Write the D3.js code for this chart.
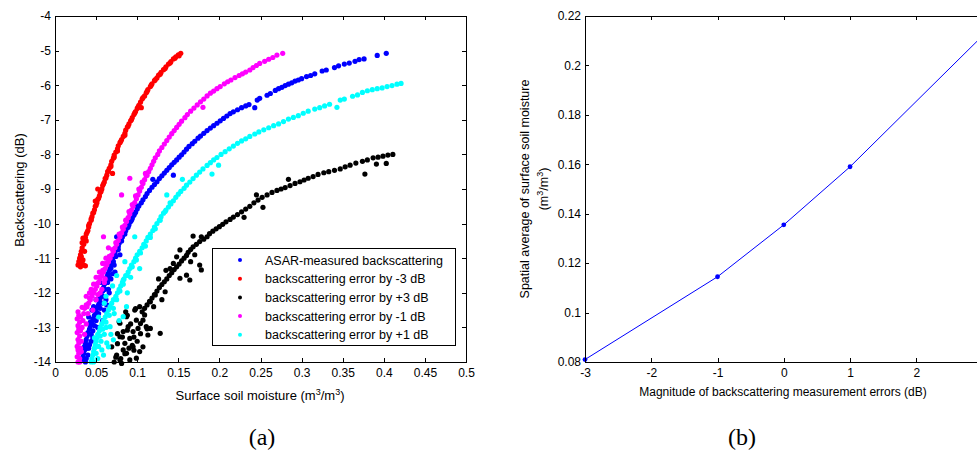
<!DOCTYPE html>
<html>
<head>
<meta charset="utf-8">
<style>
  body { margin: 0; background: #fff; }
  svg { display: block; font-family: "Liberation Sans", Arial, sans-serif; }
  .axis path, .axis line { stroke: #000; fill: none; shape-rendering: crispEdges; }
  .axis text { font-size: 12px; fill: #000; font-family: "Liberation Sans", Arial, sans-serif; }
  .lbl { font-size: 12px; fill: #000; }
  .lbl13 { font-size: 13px; fill: #000; }
  .cap { font-family: "Liberation Serif", "Times New Roman", serif; font-size: 24px; fill: #000; }
</style>
</head>
<body>
<script src="https://cdn.jsdelivr.net/npm/d3@7"></script>
<script>
// ---- panel (a): backscattering vs soil moisture, [moisture, dB]
var ptsAsar = [[0.403,-5.08],[0.392,-5.14],[0.376,-5.24],[0.370,-5.26],[0.365,-5.31],[0.358,-5.36],[0.352,-5.39],[0.345,-5.44],[0.340,-5.49],[0.330,-5.56],[0.325,-5.59],[0.316,-5.67],[0.311,-5.72],[0.306,-5.75],[0.300,-5.81],[0.296,-5.85],[0.292,-5.88],[0.288,-5.93],[0.284,-5.97],[0.280,-6.01],[0.276,-6.06],[0.272,-6.1],[0.268,-6.15],[0.262,-6.24],[0.258,-6.29],[0.249,-6.38],[0.246,-6.43],[0.243,-6.65],[0.236,-6.56],[0.232,-6.6],[0.227,-6.65],[0.222,-6.71],[0.217,-6.77],[0.213,-6.82],[0.209,-6.89],[0.205,-6.96],[0.201,-7.03],[0.197,-7.1],[0.193,-7.17],[0.189,-7.24],[0.185,-7.31],[0.181,-7.39],[0.177,-7.47],[0.174,-7.53],[0.170,-7.62],[0.167,-7.69],[0.163,-7.77],[0.160,-7.85],[0.157,-7.93],[0.154,-8.01],[0.151,-8.08],[0.148,-8.16],[0.145,-8.23],[0.142,-8.3],[0.144,-8.6],[0.139,-8.38],[0.136,-8.46],[0.133,-8.54],[0.130,-8.62],[0.127,-8.7],[0.124,-8.79],[0.121,-8.87],[0.119,-8.72],[0.118,-8.95],[0.115,-9.04],[0.112,-9.13],[0.110,-9.22],[0.107,-9.31],[0.105,-9.4],[0.102,-9.49],[0.100,-9.58],[0.098,-9.67],[0.096,-9.76],[0.094,-9.85],[0.092,-9.94],[0.090,-10.03],[0.088,-10.12],[0.086,-10.21],[0.084,-10.3],[0.082,-10.39],[0.075,-10.38],[0.080,-10.48],[0.078,-10.57],[0.077,-10.66],[0.075,-10.75],[0.073,-10.85],[0.072,-10.95],[0.070,-11.05],[0.069,-11.15],[0.067,-11.25],[0.066,-11.35],[0.064,-11.45],[0.063,-11.55],[0.062,-11.65],[0.060,-11.75],[0.059,-11.85],[0.058,-11.95],[0.056,-12.05],[0.055,-12.15],[0.054,-12.25],[0.053,-12.35],[0.051,-12.45],[0.050,-12.55],[0.048,-12.65],[0.046,-12.75],[0.045,-12.85],[0.043,-12.95],[0.042,-13.05],[0.040,-13.15],[0.039,-13.25],[0.038,-13.35],[0.037,-13.45],[0.036,-13.55],[0.036,-13.65],[0.035,-13.75],[0.034,-13.85],[0.034,-13.95],[0.072,-11.2],[0.068,-11.6],[0.065,-11.9],[0.055,-11.7],[0.062,-12.2],[0.060,-12.5],[0.050,-12.2],[0.047,-12.4],[0.058,-12.8],[0.041,-12.7],[0.044,-13.2],[0.042,-13.5],[0.040,-13.8],[0.037,-14.0],[0.079,-10.9],[0.073,-11.4],[0.052,-13.0],[0.046,-13.3],[0.039,-13.6],
  [0.100,-9.5],[0.097,-9.7],[0.093,-9.9],[0.089,-10.1],[0.085,-10.3],[0.081,-10.5],[0.077,-10.75],[0.074,-10.95],[0.071,-11.1],[0.068,-11.3],[0.066,-11.55],[0.064,-11.7],[0.061,-11.9],[0.058,-12.1],[0.057,-12.3],[0.055,-12.45],[0.053,-12.6],[0.050,-12.8],[0.048,-12.95],[0.046,-13.1],[0.044,-13.4],[0.041,-13.6],[0.038,-13.9],[0.070,-11.45],[0.066,-12.0],[0.063,-12.35],[0.045,-12.5],[0.043,-12.85]];

var ptsMinus3 = [[0.153,-5.08],[0.150,-5.12],[0.147,-5.18],[0.144,-5.24],[0.141,-5.32],[0.138,-5.39],[0.135,-5.47],[0.132,-5.55],[0.129,-5.63],[0.126,-5.71],[0.124,-5.79],[0.121,-5.87],[0.118,-5.96],[0.116,-6.04],[0.113,-6.13],[0.111,-6.22],[0.109,-6.31],[0.106,-6.4],[0.104,-6.49],[0.102,-6.58],[0.105,-6.65],[0.100,-6.67],[0.098,-6.76],[0.096,-6.85],[0.094,-6.94],[0.092,-7.03],[0.090,-7.12],[0.088,-7.21],[0.086,-7.3],[0.085,-7.39],[0.083,-7.48],[0.081,-7.57],[0.079,-7.66],[0.077,-7.75],[0.076,-7.84],[0.074,-7.93],[0.072,-8.02],[0.071,-8.11],[0.069,-8.2],[0.068,-8.3],[0.070,-8.55],[0.066,-8.4],[0.064,-8.5],[0.063,-8.6],[0.061,-8.7],[0.060,-8.8],[0.058,-8.9],[0.057,-9.0],[0.055,-9.1],[0.054,-9.2],[0.052,-9.3],[0.051,-9.4],[0.049,-9.5],[0.048,-9.6],[0.046,-9.7],[0.045,-9.8],[0.044,-9.9],[0.042,-10.0],[0.041,-10.1],[0.040,-10.2],[0.038,-10.3],[0.037,-10.4],[0.034,-10.42],[0.036,-10.5],[0.035,-10.6],[0.033,-10.7],[0.032,-10.8],[0.031,-10.9],[0.036,-10.8],[0.030,-11.0],[0.034,-11.05],[0.029,-11.1],[0.033,-11.15],[0.028,-11.2],[0.037,-11.22],[0.031,-11.25],
  [0.151,-5.15],[0.146,-5.22],[0.140,-5.36],[0.134,-5.52],[0.128,-5.68],[0.122,-5.84],[0.117,-6.0],[0.112,-6.18],[0.107,-6.36],[0.101,-6.63],[0.097,-6.8],[0.093,-7.0],[0.089,-7.18],[0.085,-7.45],[0.080,-7.62],[0.076,-7.9],[0.072,-8.08],[0.068,-8.35],[0.065,-8.48],[0.062,-8.68],[0.059,-8.85],[0.056,-9.07],[0.053,-9.27],[0.050,-9.47],[0.047,-9.68],[0.044,-9.86],[0.041,-10.05],[0.039,-10.25],[0.035,-10.45],[0.032,-10.95],[0.030,-11.15],[0.035,-11.2],[0.038,-10.5],[0.033,-10.55],[0.052,-9.0],[0.049,-9.35]];

var ptsPlus3 = [[0.411,-8.0],[0.405,-8.02],[0.399,-8.05],[0.393,-8.08],[0.387,-8.1],[0.380,-8.16],[0.374,-8.2],[0.403,-8.26],[0.391,-8.28],[0.377,-8.57],[0.366,-8.25],[0.359,-8.31],[0.353,-8.36],[0.347,-8.42],[0.340,-8.46],[0.333,-8.5],[0.327,-8.53],[0.320,-8.58],[0.314,-8.64],[0.308,-8.69],[0.303,-8.74],[0.298,-8.79],[0.292,-8.84],[0.284,-8.72],[0.286,-8.9],[0.280,-8.96],[0.275,-9.0],[0.270,-9.04],[0.264,-9.1],[0.258,-9.17],[0.252,-9.24],[0.245,-9.17],[0.247,-9.32],[0.253,-9.53],[0.242,-9.4],[0.237,-9.5],[0.232,-9.58],[0.227,-9.66],[0.230,-9.82],[0.222,-9.74],[0.217,-9.81],[0.213,-9.88],[0.208,-9.95],[0.204,-10.02],[0.200,-10.09],[0.196,-10.15],[0.192,-10.22],[0.188,-10.29],[0.185,-10.38],[0.181,-10.45],[0.178,-10.38],[0.176,-10.52],[0.168,-10.36],[0.172,-10.6],[0.168,-10.67],[0.165,-10.75],[0.162,-10.83],[0.160,-10.92],[0.176,-11.2],[0.178,-11.34],[0.157,-11.0],[0.152,-10.76],[0.148,-10.96],[0.154,-11.08],[0.151,-11.17],[0.148,-11.25],[0.145,-11.33],[0.142,-11.42],[0.164,-11.63],[0.160,-11.49],[0.152,-11.58],[0.139,-11.5],[0.136,-11.6],[0.133,-11.68],[0.130,-11.76],[0.127,-11.85],[0.134,-11.97],[0.124,-11.95],[0.121,-12.05],[0.130,-12.2],[0.118,-12.15],[0.115,-12.25],[0.120,-12.4],[0.112,-12.35],[0.109,-12.45],[0.106,-12.55],[0.103,-12.4],[0.097,-12.5],[0.109,-12.64],[0.099,-12.79],[0.087,-12.69],[0.079,-12.88],[0.089,-12.98],[0.083,-13.12],[0.095,-13.12],[0.101,-13.03],[0.116,-13.03],[0.113,-13.22],[0.128,-13.17],[0.111,-12.98],[0.107,-12.79],[0.079,-13.27],[0.091,-13.32],[0.085,-13.46],[0.095,-13.56],[0.107,-13.56],[0.103,-13.7],[0.087,-13.75],[0.075,-13.8],[0.069,-13.56],[0.079,-13.94],[0.091,-13.94],[0.099,-13.89],[0.081,-14.04],[0.072,-14.0],[0.080,-13.9],[0.074,-13.86],[0.085,-13.76],[0.096,-13.66],[0.094,-13.52],[0.076,-13.47],[0.082,-13.28],[0.076,-13.18],[0.088,-13.08],[0.078,-12.84],[0.088,-12.65],[0.086,-12.55],[0.098,-12.46],[0.104,-12.89],[0.104,-13.18],[0.112,-13.04],[0.096,-13.28],[0.092,-12.9],[0.100,-13.4],[0.090,-13.6],[0.083,-13.65],[0.122,-12.06],[0.116,-12.26],[0.144,-11.15],[0.140,-11.3],[0.126,-11.6],[0.135,-11.35],[0.170,-10.9],[0.165,-11.1]];

var ptsMinus1 = [[0.277,-5.08],[0.270,-5.13],[0.265,-5.2],[0.260,-5.25],[0.255,-5.31],[0.249,-5.37],[0.245,-5.43],[0.241,-5.49],[0.237,-5.56],[0.232,-5.62],[0.228,-5.67],[0.224,-5.72],[0.219,-5.78],[0.214,-5.85],[0.210,-5.9],[0.206,-5.96],[0.201,-6.04],[0.197,-6.1],[0.193,-6.17],[0.189,-6.23],[0.185,-6.31],[0.181,-6.4],[0.180,-6.64],[0.177,-6.48],[0.173,-6.57],[0.169,-6.66],[0.165,-6.75],[0.161,-6.85],[0.158,-6.94],[0.154,-7.04],[0.151,-7.13],[0.148,-7.22],[0.145,-7.31],[0.142,-7.4],[0.139,-7.5],[0.136,-7.6],[0.133,-7.7],[0.130,-7.8],[0.127,-7.9],[0.125,-8.0],[0.122,-8.1],[0.120,-8.2],[0.118,-8.3],[0.116,-8.4],[0.112,-8.6],[0.114,-8.5],[0.111,-8.62],[0.109,-8.73],[0.107,-8.84],[0.105,-8.95],[0.091,-8.69],[0.103,-9.06],[0.101,-9.17],[0.099,-9.28],[0.097,-9.39],[0.095,-9.5],[0.093,-9.61],[0.091,-9.72],[0.089,-9.83],[0.081,-9.17],[0.087,-9.94],[0.085,-10.05],[0.083,-10.16],[0.081,-10.27],[0.079,-10.38],[0.077,-10.49],[0.059,-10.38],[0.075,-10.6],[0.073,-10.7],[0.071,-10.8],[0.069,-10.9],[0.067,-11.0],[0.065,-11.1],[0.063,-11.2],[0.061,-11.3],[0.059,-11.4],[0.057,-11.5],[0.055,-11.6],[0.053,-11.7],[0.051,-11.8],[0.049,-11.9],[0.047,-12.0],[0.045,-12.1],[0.043,-12.2],[0.041,-12.3],[0.039,-12.4],[0.036,-12.45],[0.033,-12.42],[0.065,-10.7],[0.062,-11.0],[0.058,-11.15],[0.054,-11.4],[0.061,-11.6],[0.050,-11.55],[0.047,-11.75],[0.055,-12.0],[0.044,-11.9],[0.050,-12.2],[0.042,-12.0],[0.038,-12.1],[0.046,-12.5],[0.040,-12.6],[0.034,-12.8],[0.038,-12.9],[0.036,-13.2],[0.028,-12.55],[0.029,-12.65],[0.027,-12.75],[0.030,-12.85],[0.028,-12.95],[0.029,-13.05],[0.027,-13.15],[0.030,-13.25],[0.028,-13.35],[0.029,-13.45],[0.027,-13.55],[0.031,-13.6],[0.028,-13.65],[0.029,-13.75],[0.027,-13.85],[0.030,-13.9],[0.028,-14.0],[0.031,-13.1],[0.031,-12.7],[0.032,-13.4],
  [0.110,-8.55],[0.106,-8.8],[0.102,-9.0],[0.098,-9.2],[0.094,-9.45],[0.090,-9.65],[0.086,-9.9],[0.082,-10.1],[0.078,-10.3],[0.074,-10.55],[0.070,-10.75],[0.066,-10.95],[0.062,-11.15],[0.058,-11.35],[0.054,-11.55],[0.050,-11.75],[0.046,-11.95],[0.042,-12.15],[0.038,-12.35],[0.060,-11.7],[0.057,-11.9],[0.052,-12.05],[0.035,-12.6],[0.033,-13.0],[0.032,-13.7],[0.030,-14.0]];

var ptsPlus1 = [[0.421,-5.95],[0.416,-5.97],[0.410,-6.01],[0.404,-6.04],[0.398,-6.08],[0.392,-6.1],[0.386,-6.13],[0.380,-6.16],[0.374,-6.21],[0.368,-6.28],[0.362,-6.32],[0.352,-6.4],[0.347,-6.43],[0.343,-6.64],[0.334,-6.55],[0.328,-6.6],[0.322,-6.65],[0.316,-6.69],[0.308,-6.75],[0.302,-6.81],[0.296,-6.88],[0.290,-6.93],[0.284,-6.98],[0.278,-7.05],[0.272,-7.12],[0.266,-7.17],[0.260,-7.23],[0.254,-7.29],[0.248,-7.35],[0.243,-7.41],[0.237,-7.48],[0.232,-7.55],[0.227,-7.61],[0.222,-7.68],[0.217,-7.76],[0.212,-7.84],[0.207,-7.92],[0.202,-8.0],[0.197,-8.09],[0.199,-8.31],[0.193,-8.16],[0.189,-8.24],[0.185,-8.32],[0.180,-8.42],[0.191,-8.57],[0.176,-8.51],[0.172,-8.6],[0.168,-8.7],[0.164,-8.8],[0.155,-8.72],[0.160,-8.89],[0.157,-8.98],[0.153,-9.07],[0.150,-9.15],[0.147,-9.24],[0.144,-9.34],[0.136,-9.17],[0.141,-9.43],[0.138,-9.52],[0.135,-9.61],[0.132,-9.7],[0.129,-9.8],[0.127,-9.9],[0.124,-10.0],[0.121,-10.1],[0.119,-10.2],[0.116,-10.3],[0.113,-10.4],[0.097,-10.38],[0.111,-10.5],[0.108,-10.6],[0.106,-10.7],[0.103,-10.8],[0.100,-10.9],[0.098,-11.0],[0.096,-11.1],[0.093,-11.2],[0.103,-11.3],[0.091,-11.3],[0.089,-11.4],[0.086,-11.5],[0.084,-11.6],[0.082,-11.7],[0.080,-11.8],[0.078,-11.9],[0.076,-12.0],[0.074,-12.1],[0.071,-12.2],[0.069,-12.3],[0.067,-12.4],[0.065,-12.5],[0.063,-12.6],[0.061,-12.7],[0.059,-12.8],[0.057,-12.9],[0.055,-13.0],[0.054,-13.1],[0.052,-13.2],[0.051,-13.3],[0.050,-13.4],[0.049,-13.5],[0.048,-13.6],[0.047,-13.7],[0.046,-13.8],[0.045,-13.9],[0.044,-14.0],[0.085,-11.1],[0.092,-11.55],[0.083,-11.63],[0.088,-12.0],[0.070,-11.8],[0.075,-11.5],[0.087,-12.4],[0.083,-12.69],[0.062,-12.1],[0.060,-12.3],[0.072,-12.6],[0.067,-12.98],[0.071,-13.36],[0.065,-13.56],[0.059,-13.8],[0.053,-12.7],[0.056,-13.4],[0.052,-13.9],[0.060,-13.2],[0.048,-13.3],[0.062,-13.0],
  [0.140,-9.4],[0.134,-9.65],[0.128,-9.9],[0.122,-10.15],[0.116,-10.4],[0.110,-10.65],[0.104,-10.85],[0.099,-11.05],[0.094,-11.25],[0.088,-11.5],[0.083,-11.75],[0.079,-11.95],[0.075,-12.2],[0.071,-12.45],[0.066,-12.65],[0.062,-12.85],[0.058,-13.05],[0.055,-13.25],[0.053,-13.55],[0.050,-13.75],[0.047,-14.0],[0.078,-12.8],[0.068,-13.2],[0.063,-13.45],[0.057,-13.65]];

var legendLabels = ["ASAR-measured backscattering", "backscattering error by -3 dB",
  "backscattering error by +3 dB", "backscattering error by -1 dB", "backscattering error by +1 dB"];
var seriesColors = ["#0000ff", "#ff0000", "#000000", "#ff00ff", "#00ffff"];
var xTicksA = [0, 0.05, 0.1, 0.15, 0.2, 0.25, 0.3, 0.35, 0.4, 0.45, 0.5];
var yTicksA = [-14, -13, -12, -11, -10, -9, -8, -7, -6, -5, -4];

// ---- panel (b): mean soil moisture vs error magnitude
var errMag = [-3, -1, 0, 1, 3];
var avgSm = [0.081, 0.1145, 0.1355, 0.159, 0.212];
var xTicksB = [-3, -2, -1, 0, 1, 2, 3];
var yTicksB = [0.08, 0.1, 0.12, 0.14, 0.16, 0.18, 0.2, 0.22];

var W = 977, H = 454;
var svg = d3.select("body").append("svg").attr("width", W).attr("height", H);

var xA = d3.scaleLinear().domain([0, 0.5]).range([55, 466]);
var yA = d3.scaleLinear().domain([-14, -4]).range([362, 16]);
var xB = d3.scaleLinear().domain([-3, 3]).range([585, 982.6]);
var yB = d3.scaleLinear().domain([0.08, 0.22]).range([362, 16]);

function fmt(d) { return String(d); }

// matlab-style box with inward ticks on all four sides
function box(x, y, xt, yt, xfmt) {
  var x0 = x.range()[0], x1 = x.range()[1], y0 = y.range()[0], y1 = y.range()[1];
  svg.append("g").attr("class", "axis").attr("transform", "translate(0," + y1 + ")")
    .call(d3.axisTop(x).tickValues(xt).tickSize(-4).tickSizeOuter(0).tickFormat(""));
  svg.append("g").attr("class", "axis").attr("transform", "translate(" + x1 + ",0)")
    .call(d3.axisRight(y).tickValues(yt).tickSize(-4).tickSizeOuter(0).tickFormat(""));
  svg.append("g").attr("class", "axis").attr("transform", "translate(0," + y0 + ")")
    .call(d3.axisBottom(x).tickValues(xt).tickSize(-4).tickSizeOuter(0).tickPadding(6).tickFormat(xfmt || fmt));
  svg.append("g").attr("class", "axis").attr("transform", "translate(" + x0 + ",0)")
    .call(d3.axisLeft(y).tickValues(yt).tickSize(-4).tickSizeOuter(0).tickPadding(4).tickFormat(fmt));
}

// scatter (a)
var allSeries = [ptsAsar, ptsMinus3, ptsPlus3, ptsMinus1, ptsPlus1];
allSeries.forEach(function(pts, i) {
  svg.append("g").selectAll("circle").data(pts).enter().append("circle")
    .attr("cx", function(d) { return xA(d[0]); })
    .attr("cy", function(d) { return yA(d[1]); })
    .attr("r", 2.6)
    .attr("fill", seriesColors[i]);
});
box(xA, yA, xTicksA, yTicksA);

// legend (a)
var leg = svg.append("g");
leg.append("rect").attr("x", 212.5).attr("y", 248.5).attr("width", 243).attr("height", 97)
  .attr("fill", "#fff").attr("stroke", "#000").attr("stroke-width", 1);
legendLabels.forEach(function(t, i) {
  var ly = 260 + i * 18.7;
  leg.append("circle").attr("cx", 240).attr("cy", ly).attr("r", 2).attr("fill", seriesColors[i]);
  leg.append("text").attr("class", "lbl").attr("font-size", 12.5).style("font-size", "12.5px")
    .attr("x", 265).attr("y", ly + 4.5).text(t);
});

// axis labels (a)
var xl = svg.append("text").attr("class", "lbl13").attr("x", 260).attr("y", 400).attr("text-anchor", "middle");
xl.append("tspan").text("Surface soil moisture (m");
xl.append("tspan").attr("dy", -5).attr("font-size", 9).text("3");
xl.append("tspan").attr("dy", 5).text("/m");
xl.append("tspan").attr("dy", -5).attr("font-size", 9).text("3");
xl.append("tspan").attr("dy", 5).text(")");
svg.append("text").attr("class", "lbl13").attr("text-anchor", "middle")
  .attr("transform", "translate(24,190) rotate(-90)").text("Backscattering (dB)");

// line (b)
var pairs = errMag.map(function(e, i) { return [e, avgSm[i]]; });
svg.append("path").datum(pairs)
  .attr("d", d3.line().x(function(d) { return xB(d[0]); }).y(function(d) { return yB(d[1]); }))
  .attr("fill", "none").attr("stroke", "#0000ff").attr("stroke-width", 1);
svg.append("g").selectAll("circle").data(pairs).enter().append("circle")
  .attr("cx", function(d) { return xB(d[0]); })
  .attr("cy", function(d) { return yB(d[1]); })
  .attr("r", 2.4).attr("fill", "#0000ff");
// the last tick (3) falls outside the visible window, as in the reference
box(xB, yB, xTicksB, yTicksB, function(d) { return xB(d) > W - 4 ? "" : fmt(d); });

svg.append("text").attr("class", "lbl").attr("x", 783).attr("y", 396).attr("text-anchor", "middle")
  .text("Magnitude of backscattering measurement errors (dB)");
svg.append("text").attr("class", "lbl").style("font-size", "12.5px").attr("text-anchor", "middle")
  .attr("transform", "translate(529,189) rotate(-90)").text("Spatial average of surface soil moisture");
var yl2 = svg.append("text").attr("class", "lbl").style("font-size", "12.5px").attr("text-anchor", "middle")
  .attr("transform", "translate(548,189) rotate(-90)");
yl2.append("tspan").text("(m");
yl2.append("tspan").attr("dy", -5).style("font-size", "9px").text("3");
yl2.append("tspan").attr("dy", 5).text("/m");
yl2.append("tspan").attr("dy", -5).style("font-size", "9px").text("3");
yl2.append("tspan").attr("dy", 5).text(")");

// panel captions
svg.append("text").attr("class", "cap").attr("x", 262).attr("y", 445).attr("text-anchor", "middle").text("(a)");
svg.append("text").attr("class", "cap").attr("x", 742).attr("y", 445).attr("text-anchor", "middle").text("(b)");
</script>
</body>
</html>
